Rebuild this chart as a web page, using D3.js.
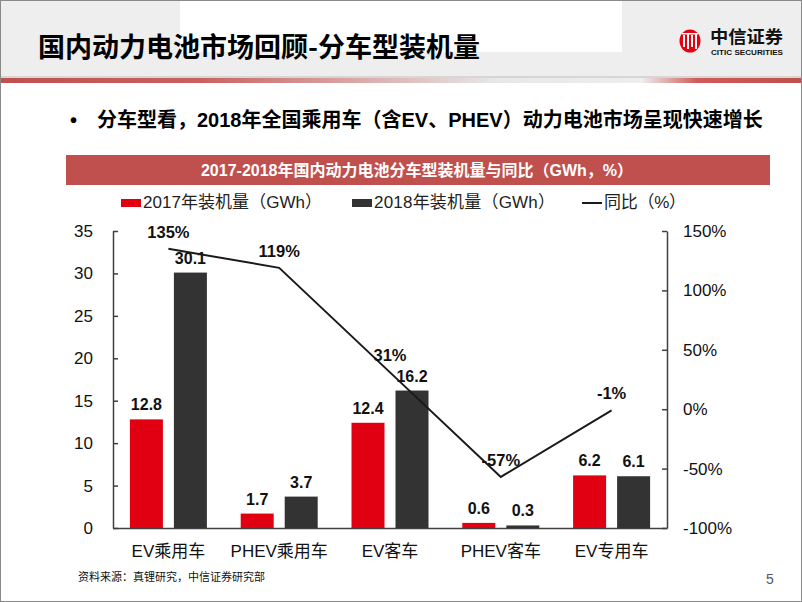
<!DOCTYPE html>
<html><head><meta charset="utf-8">
<script src="https://cdn.jsdelivr.net/npm/d3@7"></script>
<style>
body{margin:0;background:#fff;}
svg{display:block;font-family:"Liberation Sans",Arial,"Noto Sans CJK SC",sans-serif;}
</style></head>
<body>
<svg id="c" width="802" height="602"></svg>
<script>
const categories = ["EV乘用车","PHEV乘用车","EV客车","PHEV客车","EV专用车"];
const values2017 = [12.8,1.7,12.4,0.6,6.2];
const values2018 = [30.1,3.7,16.2,0.3,6.1];
const yoyValues = [135,119,31,-57,-1];
const yoyLabels = ["135%","119%","31%","-57%","-1%"];
const leftTicks = [0,5,10,15,20,25,30,35];
const rightTicks = [-100,-50,0,50,100,150];
const seriesNames = ["2017年装机量（GWh）","2018年装机量（GWh）","同比（%）"];
const pageTitle = "国内动力电池市场回顾-分车型装机量";
const bulletText = "分车型看，2018年全国乘用车（含EV、PHEV）动力电池市场呈现快速增长";
const chartTitle = "2017-2018年国内动力电池分车型装机量与同比（GWh，%）";
const sourceText = "资料来源：真锂研究，中信证券研究部";

const svg = d3.select("#c");
const defs = svg.append("defs");
const g1 = defs.append("linearGradient").attr("id","redline").attr("x1","0").attr("x2","1");
[[0,"#c0504d"],[0.25,"#c9625f"],[0.62,"#e8e8e8"],[0.8,"#eeeeee"],[0.87,"#cf5a57"],[1,"#c0504d"]]
  .forEach(s=>g1.append("stop").attr("offset",s[0]).attr("stop-color",s[1]));

// header
svg.append("rect").attr("x",0).attr("y",0).attr("width",802).attr("height",80).attr("fill","#eeeeee");
svg.append("rect").attr("x",180).attr("y",0).attr("width",442).attr("height",52).attr("fill","#ffffff");
svg.append("rect").attr("x",0).attr("y",76).attr("width",802).attr("height",2).attr("fill","#d6d6d6");
svg.append("rect").attr("x",0).attr("y",78).attr("width",802).attr("height",5).attr("fill","url(#redline)");
svg.append("text").attr("x",38).attr("y",57).attr("font-size",27).attr("font-weight","bold")
  .attr("font-family","'Noto Sans CJK SC',sans-serif").attr("fill","#000").text(pageTitle);

// logo
const logo = svg.append("g");
logo.append("ellipse").attr("cx",690).attr("cy",41).attr("rx",10.5).attr("ry",11.5).attr("fill","#e60012");
[684,688,692,696].forEach((x,i)=>logo.append("rect").attr("x",x-1).attr("y",i%2?33:35).attr("width",2).attr("height",i%2?16:12).attr("fill","#fff"));
logo.append("rect").attr("x",682).attr("y",33).attr("width",16).attr("height",1.5).attr("fill","#fff");
logo.append("text").attr("x",710).attr("y",43).attr("font-size",17.5).attr("font-weight","bold")
  .attr("textLength",73).attr("lengthAdjust","spacingAndGlyphs")
  .attr("font-family","'Noto Sans CJK SC',serif").attr("fill","#111").text("中信证券");
logo.append("text").attr("x",711).attr("y",55).attr("font-size",7).attr("font-weight","bold")
  .attr("textLength",72).attr("lengthAdjust","spacingAndGlyphs").attr("fill","#111").text("CITIC SECURITIES");

// bullet line
svg.append("text").attr("x",70).attr("y",127).attr("font-size",20).attr("font-weight","bold").attr("fill","#000").text("•");
svg.append("text").attr("x",97).attr("y",127).attr("font-size",20).attr("font-weight","bold").attr("fill","#000").text(bulletText);

// chart title bar
svg.append("rect").attr("x",66).attr("y",155).attr("width",704).attr("height",30).attr("fill","#c0504d");
svg.append("text").attr("x",417).attr("y",176).attr("text-anchor","middle").attr("font-size",16)
  .attr("font-weight","bold").attr("fill","#fff").text(chartTitle);

// scales
const x0 = d3.scaleBand().domain(categories).range([113,667]).padding(0);
const x1 = d3.scaleBand().domain([0,1]).range([-38.5,38.5]).paddingInner(0.25);
const yL = d3.scaleLinear().domain([0,35]).range([528,231]);
const yR = d3.scaleLinear().domain([-100,150]).range([528,231]);
const cx = c => x0(c)+x0.bandwidth()/2;

// axes
const axL = svg.append("g").attr("transform","translate(113,0)")
  .call(d3.axisLeft(yL).tickValues(leftTicks).tickSizeInner(-5).tickSizeOuter(0).tickPadding(20));
const axR = svg.append("g").attr("transform","translate(667,0)")
  .call(d3.axisRight(yR).tickValues(rightTicks).tickFormat(d=>d+"%").tickSizeInner(-5).tickSizeOuter(0).tickPadding(16));
const axB = svg.append("g").attr("transform","translate(0,528)")
  .call(d3.axisBottom(x0).tickSize(0).tickPadding(17));
[axL,axR,axB].forEach(a=>{
  a.selectAll("path,line").attr("stroke","#404040").attr("stroke-width",1.5);
  a.selectAll("text").attr("font-size",17).attr("fill","#111")
   .attr("font-family","'Liberation Sans',Arial,'Noto Sans CJK SC',sans-serif");
});

// bars
const series = [values2017, values2018];
const colors = ["#e00012","#333333"];
series.forEach((vals,si)=>{
  const gs = svg.append("g");
  gs.selectAll("rect").data(categories).join("rect")
    .attr("x",(c)=>cx(c)+x1(si)).attr("width",x1.bandwidth())
    .attr("y",(c,i)=>yL(vals[i])).attr("height",(c,i)=>yL(0)-yL(vals[i]))
    .attr("fill",colors[si]);
  gs.selectAll("text").data(categories).join("text")
    .attr("x",(c)=>cx(c)+x1(si)+x1.bandwidth()/2).attr("y",(c,i)=>yL(vals[i])-9)
    .attr("text-anchor","middle").attr("font-size",16).attr("font-weight","bold").attr("fill","#111")
    .text((c,i)=>vals[i].toFixed(1));
});

// line
const line = d3.line().x((d,i)=>cx(categories[i])).y(d=>yR(d));
svg.append("path").datum(yoyValues).attr("d",line).attr("fill","none").attr("stroke","#1a1a1a").attr("stroke-width",2);
svg.append("g").selectAll("text").data(yoyValues).join("text")
  .attr("x",(d,i)=>cx(categories[i])).attr("y",d=>yR(d)-11)
  .attr("text-anchor","middle").attr("font-size",16.5).attr("font-weight","bold").attr("fill","#111")
  .text((d,i)=>yoyLabels[i]);

// legend
const lg = svg.append("g").attr("font-size",17).attr("fill","#222");
lg.append("rect").attr("x",121).attr("y",199).attr("width",20).attr("height",8).attr("fill",colors[0]);
lg.append("text").attr("x",143).attr("y",207.5).attr("textLength",179).attr("lengthAdjust","spacing").text(seriesNames[0]);
lg.append("rect").attr("x",352).attr("y",199).attr("width",20).attr("height",8).attr("fill",colors[1]);
lg.append("text").attr("x",374).attr("y",207.5).attr("textLength",181).attr("lengthAdjust","spacing").text(seriesNames[1]);
lg.append("line").attr("x1",582).attr("x2",602).attr("y1",203).attr("y2",203).attr("stroke","#1a1a1a").attr("stroke-width",2);
lg.append("text").attr("x",604).attr("y",207.5).attr("textLength",82).attr("lengthAdjust","spacing").text(seriesNames[2]);

// footer
svg.append("text").attr("x",78).attr("y",581).attr("font-size",11).attr("fill","#111").text(sourceText);
svg.append("text").attr("x",766).attr("y",584).attr("font-size",14).attr("fill","#555").text("5");

// slide border
svg.append("rect").attr("x",0.5).attr("y",0.5).attr("width",801).attr("height",601)
  .attr("fill","none").attr("stroke","#8a8a8a").attr("stroke-width",1);
</script>
</body></html>
